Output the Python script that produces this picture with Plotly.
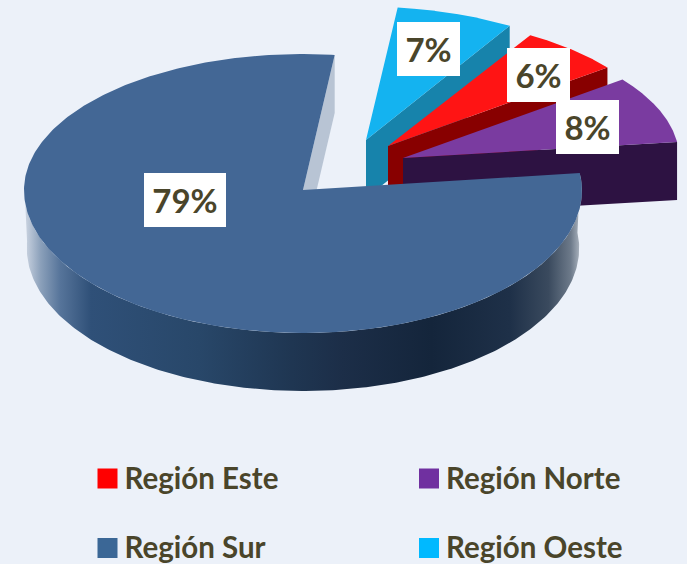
import numpy as np
import plotly.graph_objects as go

# Data
regions = ["Región Este", "Región Norte", "Región Sur", "Región Oeste"]
shares = [6.0, 8.4, 78.8, 6.8]

# Style
top_colors = ["#ff1414", "#7a3ba0", "#436795", "#14b3f0"]
wall_colors = ["#880000", "#2d1242", "#b8c4d4", "#1783ab"]
swatch_colors = ["#ff0000", "#7030a0", "#3b6796", "#00b9ff"]
TEXT = "#4a452a"
BG = "#ecf1f9"
FONT = "Lato"
START = 59.0
RX, RY_UP, RY_DOWN = 279.0, 136.0, 143.0
DEPTH = 58.0
APEX = (303.0, 190.0)
pulls = [(85, -44), (100, -32), (0, 0), (63, -50)]
radius_x = [0.99, 0.99, 1.0, 1.0]
radius_y = [0.95, 0.95, 1.0, 0.98]
label_boxes = [(538.5, 75), (587.5, 127), (185, 200), (428.5, 49)]
label_size = [(63, 54), (63, 54), (82, 54), (63, 54)]
legend_pos = [(107.5, 478.5), (429, 478.5), (107.5, 548), (429, 548)]
draw_order = [3, 0, 1, 2]

bounds = START - np.cumsum([0] + shares) * 3.6


def rim(t_deg, cx, cy, kx=1.0, ky=1.0):
    t = np.radians(t_deg)
    s = np.sin(t)
    return cx + kx * RX * np.cos(t), cy - ky * np.where(s > 0, RY_UP, RY_DOWN) * s


fig = go.Figure()


def poly(xs, ys, color=None, gradient=None):
    fig.add_trace(go.Scatter(
        x=list(xs), y=list(ys), mode="lines", line=dict(width=0, color="rgba(0,0,0,0)"),
        fill="toself", fillcolor=color, fillgradient=gradient,
        hoverinfo="skip", showlegend=False))


for i in draw_order:
    cx, cy = APEX[0] + pulls[i][0], APEX[1] + pulls[i][1]
    t1, t0 = bounds[i], bounds[i + 1]
    ts = np.linspace(t0, t1, 400)
    rx_, ry_ = rim(ts, cx, cy, radius_x[i], radius_y[i])
    # cut wall at the lower-angle end of the slice
    ex, ey = rim(t0, cx, cy, radius_x[i], radius_y[i])
    poly([cx, ex, ex, cx], [cy, ey, ey + DEPTH, cy + DEPTH], wall_colors[i])
    if i == 2:
        # curved outer wall, with horizontal shading
        tv = ts[np.sin(np.radians(ts)) <= 0.12]
        tv = tv[tv >= t1 - 190]
        sx, sy = rim(tv, cx, cy)
        bx = cx + (sx - cx) * 0.99
        poly(np.r_[sx, bx[::-1]], np.r_[sy, (sy + DEPTH)[::-1]],
             gradient=dict(type="horizontal", start=24, stop=582, colorscale=[
                 [0.0, "#d0d8e4"], [0.03, "#8ba0ba"], [0.065, "#56749a"], [0.12, "#2f5078"],
                 [0.315, "#284769"], [0.48, "#1f3652"], [0.57, "#1c2e48"], [0.73, "#14253b"],
                 [0.87, "#1e3048"], [0.94, "#3a4a5e"], [0.98, "#6d7a8a"], [1.0, "#b8c0ca"]]))
    poly(np.r_[cx, rx_], np.r_[cy, ry_], top_colors[i])

annotations = []
for r, s, (x, y), (w, h) in zip(regions, shares, label_boxes, label_size):
    annotations.append(dict(
        x=x, y=y, xref="x", yref="y", text=f"<b>{round(s)}%</b>", showarrow=False,
        bgcolor="#ffffff", width=w, height=h, borderpad=0, borderwidth=0,
        font=dict(family=FONT, size=33, color=TEXT)))

for r, c, (x, y) in zip(regions, swatch_colors, legend_pos):
    fig.add_trace(go.Scatter(
        x=[x], y=[y], mode="markers", hoverinfo="skip", showlegend=False,
        marker=dict(symbol="square", size=20, color=c, line=dict(width=0))))
    fig.add_trace(go.Scatter(
        x=[x + 17], y=[y + 3], mode="text", text=[f"<b>{r}</b>"], textposition="middle right",
        textfont=dict(family=FONT, size=29.5, color=TEXT), cliponaxis=False,
        hoverinfo="skip", showlegend=False))

fig.update_layout(
    width=687, height=564, margin=dict(l=0, r=0, t=0, b=0),
    paper_bgcolor=BG, plot_bgcolor=BG, showlegend=False, annotations=annotations,
    xaxis=dict(range=[0, 687], visible=False, fixedrange=True),
    yaxis=dict(range=[564, 0], visible=False, fixedrange=True),
)
fig.write_html("out.html", config={"displayModeBar": False},
               post_script="document.body.style.margin='0';document.documentElement.style.overflow='hidden';")
